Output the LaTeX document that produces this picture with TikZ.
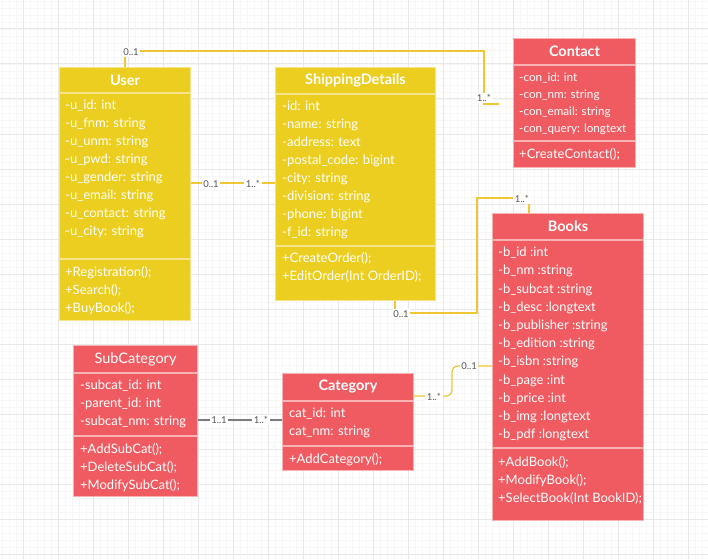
\documentclass[tikz,border=0pt]{standalone}
\usepackage{fontspec}
\setmainfont{Lato}
\usetikzlibrary{positioning}

\definecolor{umlyellow}{RGB}{236,206,32}
\definecolor{yedge}{RGB}{246,228,140}
\definecolor{umlred}{RGB}{240,91,97}
\definecolor{redge}{RGB}{248,178,180}
\definecolor{linkyellow}{RGB}{240,198,52}
\definecolor{linkgray}{RGB}{125,125,125}
\definecolor{multgray}{RGB}{85,85,85}
\definecolor{gridmajor}{RGB}{232,232,232}
\definecolor{gridminor}{RGB}{247,247,247}

\tikzset{
  ybox/.style={draw=yedge, fill=umlyellow, line width=1pt, inner sep=0pt, text=white},
  rbox/.style={draw=redge, fill=umlred, line width=1pt, inner sep=0pt, text=white},
  ctitle/.style={font=\bfseries\fontsize{14.5}{16}\selectfont},
  ctitlelight/.style={font=\fontsize{14.5}{16}\selectfont},
  members/.style={anchor=north west, inner sep=0pt, text=white, align=left,
    font=\fontsize{13}{18}\selectfont},
  yconn/.style={draw=linkyellow, line width=1.2pt},
  gconn/.style={draw=linkgray, line width=1.2pt},
  mult/.style={fill=white, inner sep=1.5pt, text=multgray, font=\fontsize{9.5}{10}\selectfont},
}

\begin{document}
\begin{tikzpicture}[x=1pt,y=-1pt]
	\fill[white] (0,0) rectangle (708,559);
	\useasboundingbox (0,0) rectangle (708,559);
	
	% grid
	\foreach \i in {0,...,101} \draw[gridminor, line width=0.5pt] (2+7*\i,0) -- (2+7*\i,559);
	\foreach \i in {0,...,79} \draw[gridminor, line width=0.5pt] (0,1+7*\i) -- (708,1+7*\i);
	\foreach \i in {0,...,19} \draw[gridmajor, line width=1pt] (23+35*\i,0) -- (23+35*\i,559);
	\foreach \i in {0,...,15} \draw[gridmajor, line width=1pt] (0,29+35*\i) -- (708,29+35*\i);
	
	% User
	\node[ybox, ctitle, minimum width=131pt, minimum height=25pt, anchor=north west] (user) at (59,67) {User};
	\node[ybox, minimum width=131pt, minimum height=165pt, below=0pt of user] (user-attr) {};
	\node[ybox, minimum width=131pt, minimum height=61pt, below=0pt of user-attr] (user-ops) {};
	\node[members] (user-attr-txt) at ([xshift=6pt,yshift=-7pt]user-attr.north west)
	{-u\_id: int\\-u\_fnm: string\\-u\_unm: string\\-u\_pwd: string\\-u\_gender: string\\-u\_email: string\\-u\_contact: string\\-u\_city: string};
	\node[members] (user-ops-txt) at ([xshift=6pt,yshift=-7pt]user-ops.north west)
	{+Registration();\\+Search();\\+BuyBook();};
	
	% ShippingDetails
	\node[ybox, ctitle, minimum width=160pt, minimum height=26pt, anchor=north west] (ship) at (275,67) {ShippingDetails};
	\node[ybox, minimum width=160pt, minimum height=151pt, below=0pt of ship] (ship-attr) {};
	\node[ybox, minimum width=160pt, minimum height=54pt, below=0pt of ship-attr] (ship-ops) {};
	\node[members] (ship-attr-txt) at ([xshift=7pt,yshift=-6.5pt]ship-attr.north west)
	{-id: int\\-name: string\\-address: text\\-postal\_code: bigint\\-city: string\\-division: string\\-phone: bigint\\-f\_id: string};
	\node[members] (ship-ops-txt) at ([xshift=7pt,yshift=-6.5pt]ship-ops.north west)
	{+CreateOrder();\\+EditOrder(Int OrderID);};
	
	% Contact
	\node[rbox, ctitle, minimum width=122pt, minimum height=26pt, anchor=north west] (contact) at (513,38) {Contact};
	\node[rbox, minimum width=122pt, minimum height=75pt, below=0pt of contact] (contact-attr) {};
	\node[rbox, minimum width=122pt, minimum height=26pt, below=0pt of contact-attr] (contact-ops) {};
	\node[members, font=\fontsize{11.7}{17}\selectfont] (contact-attr-txt) at ([xshift=6pt,yshift=-7.5pt]contact-attr.north west)
	{-con\_id: int\\-con\_nm: string\\-con\_email: string\\-con\_query: longtext};
	\node[members] (contact-ops-txt) at ([xshift=6pt,yshift=-7pt]contact-ops.north west)
	{+CreateContact();};
	
	% Books
	\node[rbox, ctitle, minimum width=151pt, minimum height=26pt, anchor=north west] (books) at (492,213) {Books};
	\node[rbox, minimum width=151pt, minimum height=207pt, below=0pt of books] (books-attr) {};
	\node[rbox, minimum width=151pt, minimum height=72pt, below=0pt of books-attr] (books-ops) {};
	\node[members, font=\fontsize{13}{18.2}\selectfont] (books-attr-txt) at ([xshift=6pt,yshift=-7pt]books-attr.north west)
	{-b\_id :int\\-b\_nm :string\\-b\_subcat :string\\-b\_desc :longtext\\-b\_publisher :string\\-b\_edition :string\\-b\_isbn :string\\-b\_page :int\\-b\_price :int\\-b\_img :longtext\\-b\_pdf :longtext};
	\node[members] (books-ops-txt) at ([xshift=6pt,yshift=-8pt]books-ops.north west)
	{+AddBook();\\+ModifyBook();\\+SelectBook(Int BookID);};
	
	% SubCategory
	\node[rbox, ctitlelight, minimum width=124pt, minimum height=27pt, anchor=north west] (sub) at (73,345) {SubCategory};
	\node[rbox, minimum width=124pt, minimum height=62pt, below=0pt of sub] (sub-attr) {};
	\node[rbox, minimum width=124pt, minimum height=60pt, below=0pt of sub-attr] (sub-ops) {};
	\node[members] (sub-attr-txt) at ([xshift=7pt,yshift=-6.5pt]sub-attr.north west)
	{-subcat\_id: int\\-parent\_id: int\\-subcat\_nm: string};
	\node[members] (sub-ops-txt) at ([xshift=7pt,yshift=-7pt]sub-ops.north west)
	{+AddSubCat();\\+DeleteSubCat();\\+ModifySubCat();};
	
	% Category
	\node[rbox, ctitle, minimum width=131pt, minimum height=27pt, anchor=north west] (cat) at (282,373) {Category};
	\node[rbox, minimum width=131pt, minimum height=44pt, below=0pt of cat] (cat-attr) {};
	\node[rbox, minimum width=131pt, minimum height=24pt, below=0pt of cat-attr] (cat-ops) {};
	\node[members] (cat-attr-txt) at ([xshift=7pt,yshift=-6.5pt]cat-attr.north west)
	{cat\_id: int\\cat\_nm: string};
	\node[members] (cat-ops-txt) at ([xshift=7pt,yshift=-7pt]cat-ops.north west)
	{+AddCategory();};
	
	% links
	\coordinate (con-end) at (499,104);
	\draw[yconn] (user.north) |- (484,51) |- (con-end);
	\draw[yconn] (user-attr.east |- 0,183) -- (ship-attr.west |- 0,183);
	\draw[yconn] (ship-ops.south -| 395,0) |- (477,313) |- (529,198) -- (books.north -| 529,0);
	\draw[yconn, rounded corners=6pt] (cat.east |- 0,396) -| (452,366) -- (books-attr.west |- 0,366);
	\draw[gconn] (sub-attr.east |- 0,420) -- (cat-attr.west |- 0,420);
	
	% multiplicities
	\node[mult] (m-uc1) at (131,52) {0..1};
	\node[mult] (m-uc2) at (484,98) {1..*};
	\node[mult] (m-us1) at (211,184) {0..1};
	\node[mult] (m-us2) at (253,184) {1..*};
	\node[mult] (m-sb1) at (401,314) {0..1};
	\node[mult] (m-sb2) at (522,199) {1..*};
	\node[mult] (m-cb1) at (434,397) {1..*};
	\node[mult] (m-cb2) at (469,366) {0..1};
	\node[mult] (m-sc1) at (219,420) {1..1};
	\node[mult] (m-sc2) at (261,420) {1..*};
\end{tikzpicture}
\end{document}
